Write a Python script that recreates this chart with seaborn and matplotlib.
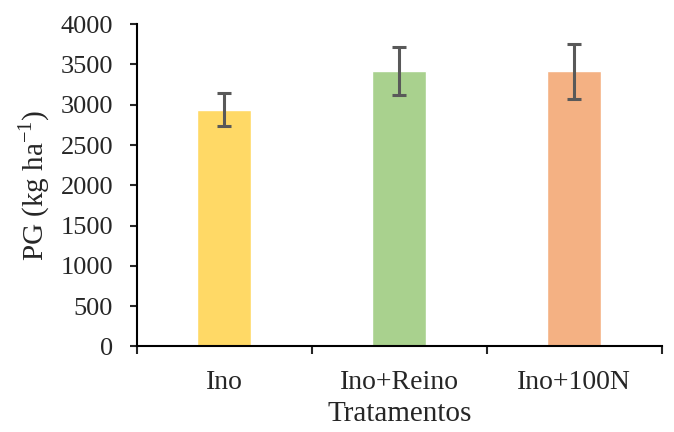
import matplotlib
matplotlib.use("Agg")
import matplotlib.pyplot as plt
import seaborn as sns
import pandas as pd
from matplotlib.ticker import FixedLocator

categories = ["Ino", "Ino+Reino", "Ino+100N"]
values = [2940, 3420, 3415]
errors = [205, 296, 343]
colors = ["#FFD966", "#A9D18E", "#F4B183"]
yticks = [0, 500, 1000, 1500, 2000, 2500, 3000, 3500, 4000]

sns.set_style("white")
plt.rcParams["font.family"] = ["Liberation Serif", "DejaVu Serif"]
plt.rcParams["mathtext.fontset"] = "custom"
plt.rcParams["mathtext.rm"] = "Liberation Serif"

df = pd.DataFrame({"cat": categories, "val": values})

fig = plt.figure(figsize=(6.74, 4.32), dpi=100)
ax = fig.add_axes([0.203, 0.198, 0.779, 0.746])
sns.barplot(data=df, x="cat", y="val", hue="cat", palette=colors, legend=False,
            width=0.31, ax=ax, saturation=1)
ax.errorbar(range(len(categories)), values, yerr=errors, fmt="none",
            ecolor="#595959", elinewidth=2.2, capsize=5, capthick=2.2)

ax.set_xlim(-0.5, 2.5)
ax.set_ylim(0, 4000)
ax.set_yticks(yticks)
ax.set_yticklabels([str(v) for v in yticks], fontsize=19)
ax.tick_params(axis="y", direction="out", length=5, width=1.5, pad=12, left=True)
ax.tick_params(axis="x", which="major", length=0, pad=17, labelsize=20)
ax.xaxis.set_minor_locator(FixedLocator([-0.5, 0.5, 1.5, 2.5]))
ax.tick_params(axis="x", which="minor", direction="out", length=6, width=1.5, bottom=True)

for s in ["top", "right"]:
    ax.spines[s].set_visible(False)
for s in ["left", "bottom"]:
    ax.spines[s].set_linewidth(1.5)
    ax.spines[s].set_color("black")

ax.set_xlabel("Tratamentos", fontsize=21, labelpad=4)
ax.set_ylabel("PG (kg ha$^{\\mathregular{-1}}$)", fontsize=21, labelpad=6)

fig.savefig("out.png", dpi=100)
